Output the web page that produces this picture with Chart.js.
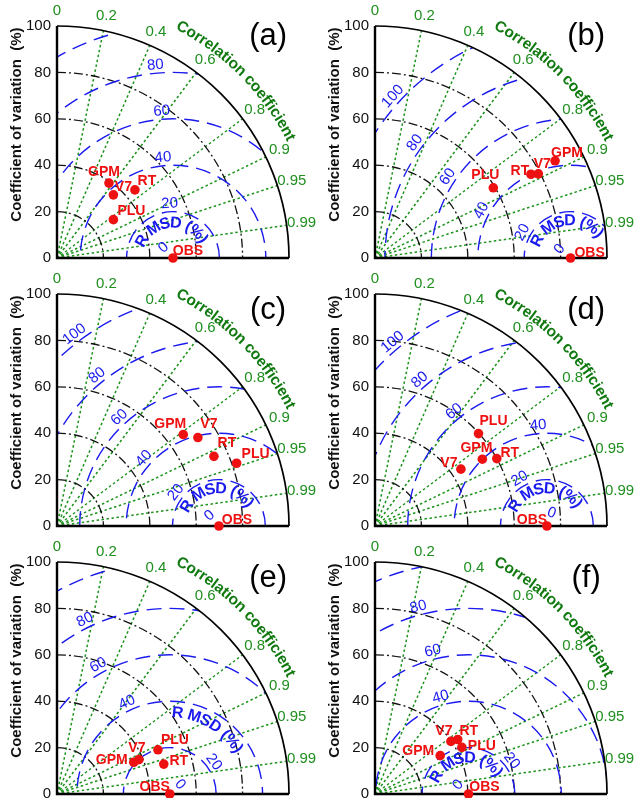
<!DOCTYPE html>
<html>
<head>
<meta charset="utf-8">
<script src="https://cdn.jsdelivr.net/npm/chart.js@4.4.1/dist/chart.umd.min.js"></script>
<style>
  html, body { margin: 0; padding: 0; background: #fff; }
  #wrap { position: relative; width: 636px; height: 798px; overflow: hidden; }
  #wrap canvas { position: absolute; }
</style>
</head>
<body>
<div id="wrap"></div>
<script>
// Taylor diagrams: coefficient of variation (%) vs correlation, RMSD around OBS
const panelTags = ['(a)', '(b)', '(c)', '(d)', '(e)', '(f)'];
const models = ['GPM', 'V7', 'RT', 'PLU'];
const obsCV = [50.0, 84.3, 69.8, 74.1, 48.6, 40.3];
const modelCV = [
    [39.3, 36.5, 44.6, 29.4],
    [88.2, 79.2, 76.3, 59.3],
    [67.2, 71.7, 74.0, 82.0],
    [54.5, 44.4, 60.0, 59.8],
    [35.8, 38.3, 47.8, 47.5],
    [32.6, 39.8, 42.7, 42.5],
];
const modelCorr = [
    [0.570, 0.666, 0.753, 0.827],
    [0.880, 0.889, 0.881, 0.860],
    [0.810, 0.847, 0.914, 0.944],
    [0.849, 0.834, 0.875, 0.746],
    [0.924, 0.922, 0.963, 0.916],
    [0.862, 0.822, 0.835, 0.881],
];
const cvTicks = [0, 20, 40, 60, 80, 100];
const corrTicks = [0, 0.2, 0.4, 0.6, 0.8, 0.9, 0.95, 0.99];
const rmsdTicks = [0, 20, 40, 60, 80, 100];

// where the RMSD numbers sit on their circles (degrees around OBS), null = not labelled
const rmsdLabelAngles = [
    [132, 93.5, 95.7, 94.4, 95.2, null],
    [141, 152, 152, 146.5, 143.5, 137.7],
    [132, 142, 138, 132.5, 129, 127],
    [70, 120, 95, 129, 131, 130],
    [42, 36, 115, 119, 116, null],
    [139, 37.6, 106, 104, 105, null],
];
// [radius, centre angle] of the curved "R MSD (%)" caption
const rmsdTitlePos = [[15, 94], [16, 99], [16, 95], [16, 94], [35, 60], [15.5, 96]];
// label offsets in px for GPM, V7, RT, PLU, OBS
const labelOffsets = [
    [[-5, -11], [10, -8], [12, -9], [18, -9], [15, -7]],
    [[12, -8], [4, -10], [-11, -3], [-8, -13], [19, -5]],
    [[-13, -10], [11, -13], [13, -13], [19, -9], [18, -6]],
    [[-6, -11], [-12, -6], [13, -5], [15, -12], [-15, -6]],
    [[-22, -2], [-2, -11], [15, -3], [17, -10], [-15, -7]],
    [[-22, -5], [-7, -10], [11, -8], [20, -1], [16, -7]],
];
const tagY = [95.5, 95.5, 93, 93, 93, 93];
const rowTop = [-4, 264, 532];

const FONT = '"Liberation Sans", Arial, sans-serif';
const GREEN = '#1f8f1f';
const BLUE = '#1a1aee';
const RED = '#ee1111';

function arcText(ctx, text, cx, cy, rad, centre) {
    const total = ctx.measureText(text).width;
    let a = centre + total / rad / 2;
    for (const ch of text) {
        const w = ctx.measureText(ch).width;
        const mid = a - w / rad / 2;
        ctx.save();
        ctx.translate(cx + rad * Math.cos(mid), cy - rad * Math.sin(mid));
        ctx.rotate(Math.PI / 2 - mid);
        ctx.fillText(ch, 0, 0);
        ctx.restore();
        a -= w / rad;
    }
}

const taylorPlugin = {
    id: 'taylor',
    beforeDatasetsDraw(chart, args, opts) {
        const { ctx, scales: { x, y } } = chart;
        const p = opts.panel;
        const ox = x.getPixelForValue(0), oy = y.getPixelForValue(0);
        const px = v => x.getPixelForValue(v) - ox;
        const R = px(100);
        ctx.save();

        // correlation rays
        ctx.strokeStyle = '#1c931c';
        ctx.lineWidth = 1.5;
        ctx.setLineDash([2.5, 2.5]);
        corrTicks.slice(1).forEach(c => {
            const a = Math.acos(c);
            ctx.beginPath();
            ctx.moveTo(ox, oy);
            ctx.lineTo(ox + R * Math.cos(a), oy - R * Math.sin(a));
            ctx.stroke();
        });

        // CV arcs
        ctx.strokeStyle = '#111';
        ctx.lineWidth = 1.3;
        ctx.setLineDash([9, 3, 2, 3]);
        cvTicks.slice(1, -1).forEach(v => {
            ctx.beginPath();
            ctx.arc(ox, oy, px(v), -Math.PI / 2, 0);
            ctx.stroke();
        });

        // RMSD circles, kept inside the quarter disc
        ctx.save();
        ctx.beginPath();
        ctx.moveTo(ox, oy);
        ctx.arc(ox, oy, R, -Math.PI / 2, 0);
        ctx.closePath();
        ctx.clip();
        ctx.strokeStyle = BLUE;
        ctx.lineWidth = 1.4;
        ctx.setLineDash([15, 8]);
        const cx = x.getPixelForValue(obsCV[p]);
        rmsdTicks.slice(1).forEach(v => {
            ctx.beginPath();
            ctx.arc(cx, oy, px(v), 0, 2 * Math.PI);
            ctx.stroke();
        });
        ctx.restore();

        // outer arc and axes
        ctx.setLineDash([]);
        ctx.strokeStyle = '#000';
        ctx.lineWidth = 1.7;
        ctx.beginPath();
        ctx.arc(ox, oy, R, -Math.PI / 2, 0);
        ctx.stroke();
        ctx.lineWidth = 2.4;
        ctx.beginPath();
        ctx.moveTo(ox, y.getPixelForValue(100));
        ctx.lineTo(ox, oy);
        ctx.lineTo(x.getPixelForValue(100), oy);
        ctx.stroke();
        ctx.restore();
    },
    afterDatasetsDraw(chart, args, opts) {
        const { ctx, scales: { x, y } } = chart;
        const p = opts.panel;
        const ox = x.getPixelForValue(0), oy = y.getPixelForValue(0);
        const px = v => x.getPixelForValue(v) - ox;
        const R = px(100);
        const cx = x.getPixelForValue(obsCV[p]);
        ctx.save();
        ctx.textAlign = 'center';
        ctx.textBaseline = 'middle';

        // RMSD numbers
        ctx.fillStyle = BLUE;
        ctx.font = '15px ' + FONT;
        rmsdTicks.forEach((v, i) => {
            const deg = rmsdLabelAngles[p][i];
            if (deg === null) return;
            const a = deg * Math.PI / 180;
            const r = px(Math.max(v + 3.5, 6));
            ctx.save();
            ctx.translate(cx + r * Math.cos(a), oy - r * Math.sin(a));
            ctx.rotate(Math.PI / 2 - a);
            ctx.fillText(String(v), 0, 0);
            ctx.restore();
        });
        ctx.font = 'bold 16px ' + FONT;
        const [tr, ta] = rmsdTitlePos[p];
        arcText(ctx, 'R MSD (%)', cx, oy, px(tr), ta * Math.PI / 180);

        // correlation labels
        ctx.fillStyle = GREEN;
        ctx.font = '15px ' + FONT;
        corrTicks.forEach(c => {
            const a = Math.acos(c);
            const r = R * 1.065;
            ctx.fillText(String(c), ox + r * Math.cos(a), oy - r * Math.sin(a));
        });
        ctx.fillStyle = '#107a10';
        ctx.font = 'bold 15.5px ' + FONT;
        arcText(ctx, 'Correlation coefficient', ox, oy, R * 1.13, 44.7 * Math.PI / 180);

        // CV axis
        ctx.fillStyle = '#111';
        ctx.font = '15px ' + FONT;
        ctx.textAlign = 'right';
        cvTicks.forEach(v => ctx.fillText(String(v), ox - 6, y.getPixelForValue(v)));
        ctx.textAlign = 'center';
        ctx.font = 'bold 15px ' + FONT;
        ctx.save();
        ctx.translate(17, y.getPixelForValue(57.5));
        ctx.rotate(-Math.PI / 2);
        ctx.fillText('Coefficient of variation  (%)', 0, 0);
        ctx.restore();

        // point labels
        ctx.fillStyle = RED;
        ctx.font = 'bold 14px ' + FONT;
        const meta = chart.getDatasetMeta(0);
        models.concat('OBS').forEach((name, i) => {
            const el = meta.data[i];
            const [dx, dy] = labelOffsets[p][i];
            ctx.fillText(name, el.x + dx, el.y + dy);
        });

        // panel tag
        ctx.fillStyle = '#000';
        ctx.font = '31px ' + FONT;
        ctx.fillText(panelTags[p], x.getPixelForValue(91), y.getPixelForValue(tagY[p]));
        ctx.restore();
    },
};

const wrap = document.getElementById('wrap');
panelTags.forEach((tag, p) => {
    const canvas = document.createElement('canvas');
    canvas.width = 318;
    canvas.height = 270;
    canvas.style.width = '318px';
    canvas.style.height = '270px';
    canvas.style.left = (p % 2) * 318 + 'px';
    canvas.style.top = rowTop[Math.floor(p / 2)] + 'px';
    wrap.appendChild(canvas);

    const points = models.map((m, i) => ({
        x: modelCV[p][i] * modelCorr[p][i],
        y: modelCV[p][i] * Math.sqrt(1 - modelCorr[p][i] ** 2),
    }));
    points.push({ x: obsCV[p], y: 0 });

    new Chart(canvas, {
        type: 'scatter',
        data: {
            datasets: [{
                data: points,
                backgroundColor: RED,
                borderWidth: 0,
                pointRadius: 4.8,
                clip: false,
            }],
        },
        options: {
            responsive: false,
            animation: false,
            devicePixelRatio: 1,
            layout: { padding: { left: 57, right: 29, top: 30, bottom: 8 } },
            scales: {
                x: { type: 'linear', min: 0, max: 100, display: false },
                y: { type: 'linear', min: 0, max: 100, display: false },
            },
            plugins: {
                legend: { display: false },
                tooltip: { enabled: false },
                taylor: { panel: p },
            },
        },
        plugins: [taylorPlugin],
    });
});
</script>
</body>
</html>
